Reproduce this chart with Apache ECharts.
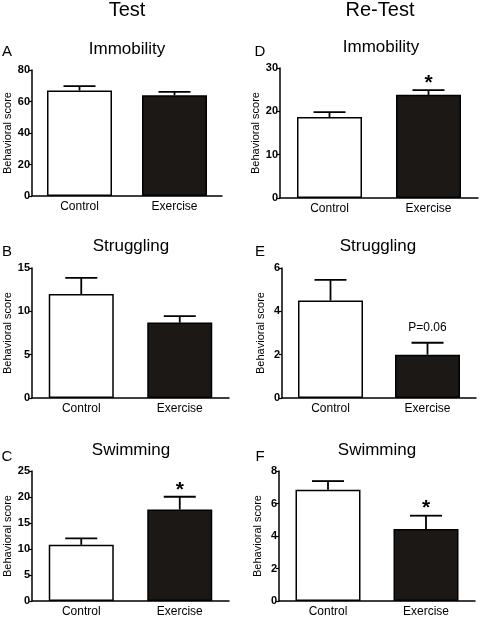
<!DOCTYPE html>
<html>
<head>
<meta charset="utf-8">
<script src="https://cdn.jsdelivr.net/npm/echarts@6/dist/echarts.min.js"></script>
<style>html,body{margin:0;padding:0;background:#fff;}#c{width:481px;height:618px;}</style>
</head>
<body>
<div id="c"></div>
<script>
// ---- data ----
const categories = ['Control', 'Exercise'];
const columnHeaders = ['Test', 'Re-Test'];
const panelLetters = ['A', 'B', 'C', 'D', 'E', 'F'];
const panelTitles = ['Immobility', 'Struggling', 'Swimming', 'Immobility', 'Struggling', 'Swimming'];
const yAxisName = 'Behavioral score';

const meanA = [67, 64];    const errA = [2.8, 2.1];   const annotA = ['', ''];
const meanB = [12, 8.7];   const errB = [1.85, 0.75]; const annotB = ['', ''];
const meanC = [10.8, 17.6];const errC = [1.25, 2.45]; const annotC = ['', '*'];
const meanD = [18.7, 23.8];const errD = [1.1, 1.1];   const annotD = ['', '*'];
const meanE = [4.5, 2.0];  const errE = [0.95, 0.55]; const annotE = ['', 'P=0.06'];
const meanF = [6.85, 4.43];const errF = [0.53, 0.82]; const annotF = ['', '*'];

const yMaxes = [80, 15, 25, 30, 6, 8];
const yIntervals = [20, 5, 5, 10, 2, 2];

const means = [meanA, meanB, meanC, meanD, meanE, meanF];
const errs = [errA, errB, errC, errD, errE, errF];
const annots = [annotA, annotB, annotC, annotD, annotE, annotF];

// ---- layout (positions / styles) ----
const grids = [
  {left: 32, top: 70, width: 190, height: 126},
  {left: 32, top: 268, width: 197, height: 130},
  {left: 32, top: 471, width: 197, height: 130},
  {left: 280, top: 68, width: 198, height: 130},
  {left: 282, top: 268, width: 194, height: 130},
  {left: 279, top: 471, width: 196, height: 130}
];
const titlePos = [[127, 49], [131, 246], [131, 450], [381, 47], [378, 246], [377, 450]];
const letterPos = [[7, 52], [7, 252], [7, 457], [260, 52], [260, 252], [260, 457]];
const headerPos = [[127, 10], [380, 10]];
const nameGaps = [19, 19, 19, 16, 16, 16];
const FONT = '"Liberation Sans", Arial, sans-serif';
const barColors = ['#ffffff', '#1b1816'];

const option = {
  animation: false,
  backgroundColor: '#ffffff',
  grid: grids.map(g => Object.assign({containLabel: false}, g)),
  xAxis: grids.map((g, i) => ({
    type: 'category', gridIndex: i, data: categories,
    axisLine: {lineStyle: {color: '#000', width: 1.5}},
    axisTick: {alignWithLabel: true, length: 4, lineStyle: {color: '#000', width: 1.2}},
    axisLabel: {color: '#000', fontSize: 12, margin: 5, fontFamily: FONT}
  })),
  yAxis: grids.map((g, i) => ({
    type: 'value', gridIndex: i, min: 0, max: yMaxes[i], interval: yIntervals[i],
    name: yAxisName, nameLocation: 'middle', nameGap: nameGaps[i],
    nameTextStyle: {color: '#000', fontSize: 11, fontFamily: FONT},
    axisLine: {show: true, lineStyle: {color: '#000', width: 1.5}},
    axisTick: {show: true, length: 3, lineStyle: {color: '#000', width: 1.2}},
    axisLabel: {color: '#000', fontSize: 11, fontWeight: 'bold', margin: 2, fontFamily: FONT},
    splitLine: {show: false}
  })),
  series: [],
  graphic: []
};

means.forEach((m, i) => {
  option.series.push({
    type: 'bar', xAxisIndex: i, yAxisIndex: i, barWidth: 65,
    data: m.map((v, k) => ({value: v, itemStyle: {color: barColors[k]}})),
    itemStyle: {borderColor: '#000', borderWidth: 1.5}
  });
  const ann = annots[i];
  option.series.push({
    type: 'custom', xAxisIndex: i, yAxisIndex: i, clip: false, z: 5,
    data: m.map((v, k) => [k, v, errs[i][k]]),
    renderItem: function (params, api) {
      const k = api.value(0), v = api.value(1), e = api.value(2);
      const p0 = api.coord([k, v]);
      const p1 = api.coord([k, v + e]);
      const half = 16;
      const st = {stroke: '#000', lineWidth: 1.8};
      const children = [
        {type: 'line', shape: {x1: p0[0], y1: p0[1], x2: p1[0], y2: p1[1]}, style: st},
        {type: 'line', shape: {x1: p1[0] - half, y1: p1[1], x2: p1[0] + half, y2: p1[1]}, style: st}
      ];
      const txt = ann[params.dataIndex];
      if (txt) {
        const isStar = txt === '*';
        children.push({
          type: 'text', x: p1[0], y: p1[1] - (isStar ? 7 : 15),
          style: {text: txt, textAlign: 'center', textVerticalAlign: 'middle',
                  fontSize: isStar ? 21 : 12, fontWeight: isStar ? 'bold' : 'normal',
                  fontFamily: FONT, fill: '#000'}
        });
      }
      return {type: 'group', children: children};
    }
  });
  option.graphic.push({
    type: 'text', x: titlePos[i][0], y: titlePos[i][1],
    style: {text: panelTitles[i], textAlign: 'center', textVerticalAlign: 'middle', fontSize: 17, fontFamily: FONT, fill: '#000'}
  });
  option.graphic.push({
    type: 'text', x: letterPos[i][0], y: letterPos[i][1],
    style: {text: panelLetters[i], textAlign: 'center', textVerticalAlign: 'middle', fontSize: 15, fontFamily: FONT, fill: '#000'}
  });
});
columnHeaders.forEach((h, j) => {
  option.graphic.push({
    type: 'text', x: headerPos[j][0], y: headerPos[j][1],
    style: {text: h, textAlign: 'center', textVerticalAlign: 'middle', fontSize: 20, fontFamily: FONT, fill: '#000'}
  });
});

const chart = echarts.init(document.getElementById('c'), null, {renderer: 'canvas'});
chart.setOption(option);
</script>
</body>
</html>
